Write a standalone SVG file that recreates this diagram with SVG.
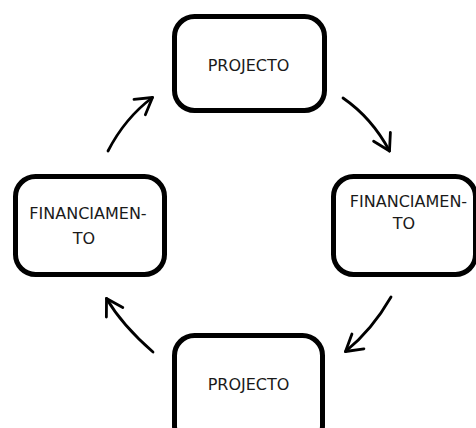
<svg xmlns="http://www.w3.org/2000/svg" width="476" height="428" viewBox="0 0 476 428">
  <style>
    .box { fill: #ffffff; stroke: #000000; stroke-width: 5; }
    .label { font-family: "DejaVu Sans", Verdana, sans-serif; font-size: 16px; fill: #1a1a1a; text-anchor: middle; }
    .flow { fill: none; stroke: #000000; stroke-width: 2.8; stroke-linecap: round; marker-end: url(#head); }
  </style>
  <defs>
    <marker id="head" markerUnits="userSpaceOnUse" markerWidth="40" markerHeight="40" refX="0" refY="0" orient="auto" overflow="visible">
      <path d="M-16,-9.5 L0,0 L-16,9.5" fill="none" stroke="#000000" stroke-width="2.8" stroke-linecap="round" stroke-linejoin="round"/>
    </marker>
  </defs>
  <rect width="476" height="428" fill="#ffffff"/>

  <g id="node-projecto-top">
    <rect class="box" x="174.5" y="16.5" width="150" height="94" rx="20"/>
    <text class="label" x="248.5" y="70.5">PROJECTO</text>
  </g>

  <g id="node-financiamento-right">
    <rect class="box" x="333.5" y="176.5" width="142" height="98" rx="20"/>
    <text class="label" x="408.5" y="206.5">FINANCIAMEN-</text>
    <text class="label" x="404" y="229">TO</text>
  </g>

  <g id="node-projecto-bottom">
    <rect class="box" x="174.5" y="335.5" width="148" height="110" rx="20"/>
    <text class="label" x="248.5" y="390">PROJECTO</text>
  </g>

  <g id="node-financiamento-left">
    <rect class="box" x="15.5" y="176.5" width="149" height="98" rx="20"/>
    <text class="label" x="88" y="219">FINANCIAMEN-</text>
    <text class="label" x="84" y="243.5">TO</text>
  </g>

  <g id="connectors">
    <path class="flow" d="M343,98 Q372,118 389.5,151"/>
    <path class="flow" d="M391,297 Q372,330 345.5,351.5"/>
    <path class="flow" d="M153,352 Q122,325 106.5,298.5"/>
    <path class="flow" d="M108,151 Q125,118 152.5,97.5"/>
  </g>
</svg>
